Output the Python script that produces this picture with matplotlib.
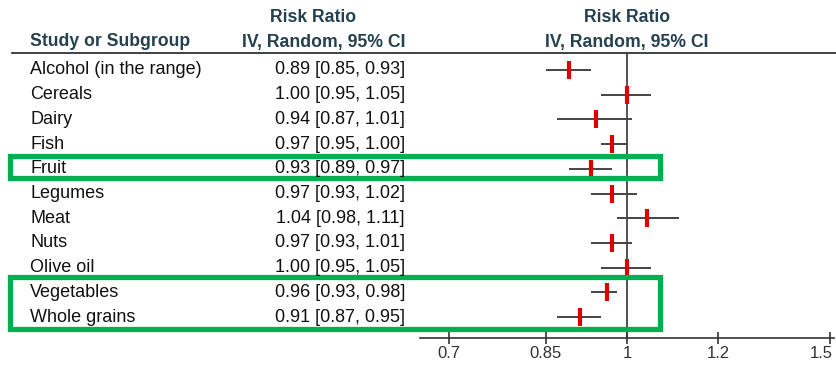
import matplotlib
matplotlib.use("Agg")
import matplotlib.pyplot as plt
from matplotlib.patches import Rectangle
from matplotlib.lines import Line2D
import matplotlib.ticker as mticker
import matplotlib.transforms as mtransforms
import math

studies = ["Alcohol (in the range)", "Cereals", "Dairy", "Fish", "Fruit", "Legumes",
           "Meat", "Nuts", "Olive oil", "Vegetables", "Whole grains"]
rr = [0.89, 1.00, 0.94, 0.97, 0.93, 0.97, 1.04, 0.97, 1.00, 0.96, 0.91]
lo = [0.85, 0.95, 0.87, 0.95, 0.89, 0.93, 0.98, 0.93, 0.95, 0.93, 0.87]
hi = [0.93, 1.05, 1.01, 1.00, 0.97, 1.02, 1.11, 1.01, 1.05, 0.98, 0.95]
ticks = [0.7, 0.85, 1, 1.2, 1.5]
tick_labels = ["0.7", "0.85", "1", "1.2", "1.5"]

W, H = 836, 365
fig = plt.figure(figsize=(W / 100, H / 100), dpi=100)
plt.rcParams['font.family'] = ['Liberation Sans', 'DejaVu Sans']

def fx(px):
    return px / W

def fy(py):
    return 1 - py / H

ax_left, ax_right = 420, 834
ax_top, ax_bot = 53, 338
ax = fig.add_axes([fx(ax_left), fy(ax_bot), fx(ax_right - ax_left), (ax_bot - ax_top) / H])
ax.set_xscale('log')
ppl = 500.0
ax.set_xlim(math.exp((ax_left - 627) / ppl), math.exp((ax_right - 627) / ppl))
row0, dy = 70, 24.7
ax.set_ylim((ax_bot - row0) / dy, (ax_top - row0) / dy)

ypos = list(range(len(studies)))
for i in ypos:
    ax.plot([lo[i], hi[i]], [i, i], color='#444444', lw=1.4, solid_capstyle='butt', zorder=2)
ax.plot(rr, ypos, linestyle='none', marker='|', markersize=13, markeredgewidth=3,
        color='#e00000', zorder=3)
ax.axvline(1, color='#444444', lw=1.3, zorder=1)

for s in ['top', 'left', 'right']:
    ax.spines[s].set_visible(False)
ax.spines['bottom'].set_color('#333333')
ax.spines['bottom'].set_linewidth(1.2)
ax.set_yticks([])
ax.xaxis.set_minor_locator(mticker.NullLocator())
ax.set_xticks(ticks)
ax.set_xticklabels(tick_labels)
ax.tick_params(axis='x', direction='inout', length=9, width=1.2, color='#333333',
               labelsize=12, labelcolor='#333333', pad=1)
ax.patch.set_alpha(0)
last = ax.get_xticklabels()[-1]
last.set_transform(last.get_transform() + mtransforms.ScaledTranslation(-8 / 100, 0, fig.dpi_scale_trans))

text_color = '#111111'
head_color = '#25404f'
fs = 13
hfs = 12.7
for i, s in enumerate(studies):
    py = row0 + dy * i
    fig.text(fx(30), fy(py), s, ha='left', va='center', fontsize=fs, color=text_color)
    fig.text(fx(405), fy(py), f"{rr[i]:.2f} [{lo[i]:.2f}, {hi[i]:.2f}]", ha='right',
             va='center', fontsize=fs, color=text_color)

fig.text(fx(30), fy(42), "Study or Subgroup", ha='left', va='center', fontsize=hfs,
         fontweight='bold', color=head_color)
fig.text(fx(313), fy(17), "Risk Ratio", ha='center', va='center', fontsize=hfs,
         fontweight='bold', color=head_color)
fig.text(fx(405), fy(42), "IV, Random, 95% CI", ha='right', va='center', fontsize=hfs,
         fontweight='bold', color=head_color)
fig.text(fx(627), fy(17), "Risk Ratio", ha='center', va='center', fontsize=hfs,
         fontweight='bold', color=head_color)
fig.text(fx(627), fy(42), "IV, Random, 95% CI", ha='center', va='center', fontsize=hfs,
         fontweight='bold', color=head_color)

fig.add_artist(Line2D([fx(12), fx(836)], [fy(53), fy(53)], color='#333333', lw=1.3,
                      transform=fig.transFigure))

green = '#00b050'
for (t, b) in [(156, 178), (277, 328.5)]:
    fig.add_artist(Rectangle((fx(9.5), fy(b)), fx(660 - 9.5), (b - t) / H, fill=False,
                             edgecolor=green, lw=3.8, transform=fig.transFigure,
                             joinstyle='miter'))

fig.savefig("out.png", dpi=100)
